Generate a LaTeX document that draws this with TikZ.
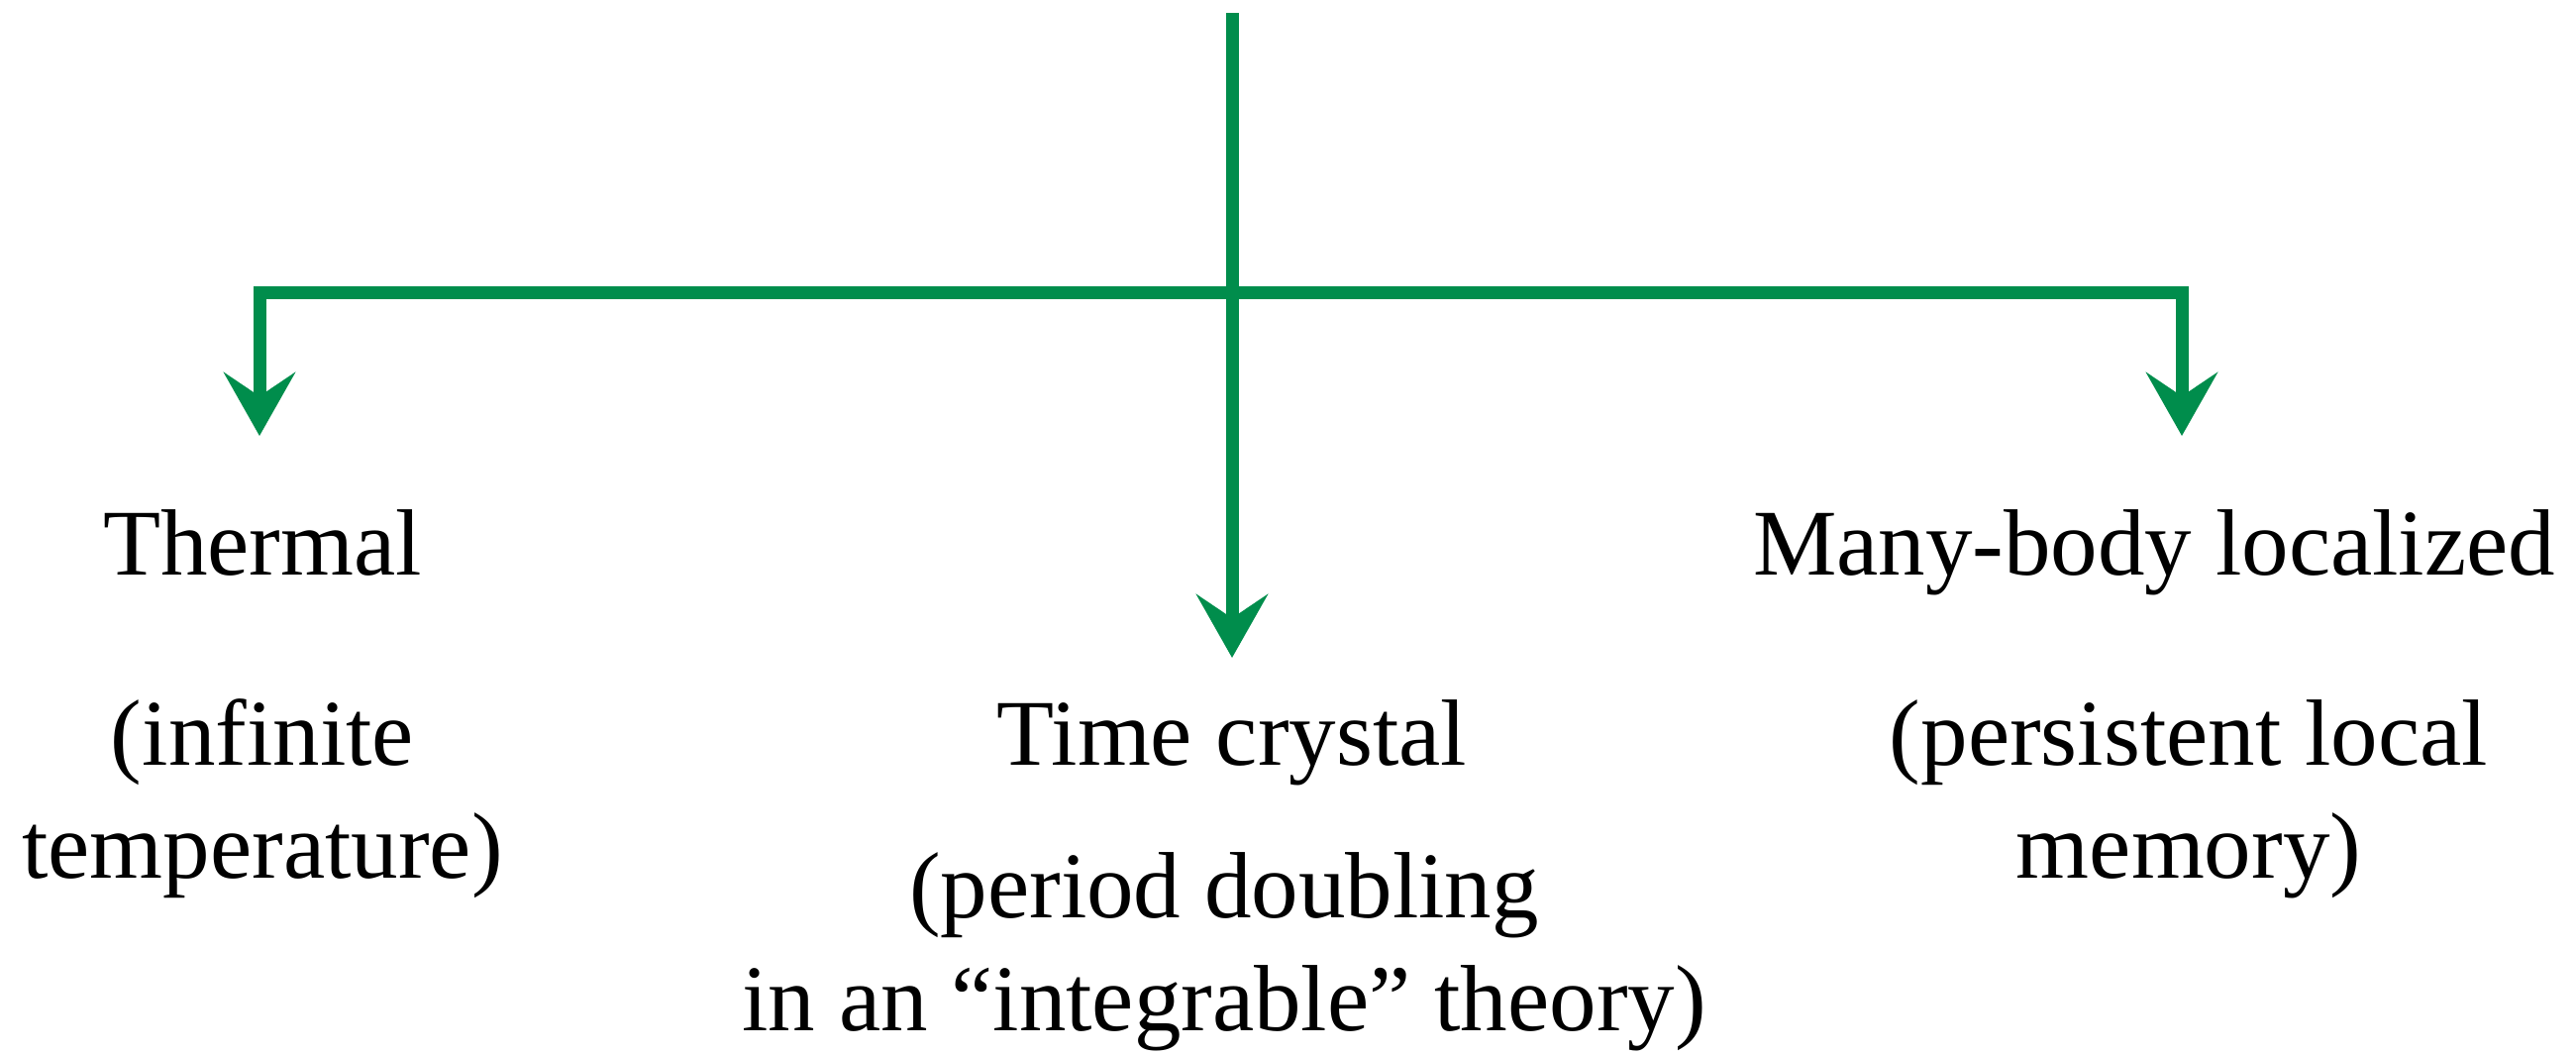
\documentclass[tikz,border=0pt]{standalone}
\usepackage{fontspec}
\setmainfont{Liberation Serif}
\usetikzlibrary{arrows.meta}
\definecolor{gesso}{RGB}{0,141,76}
\tikzset{
    punta/.tip={Stealth[length=16pt,width=18pt,inset=6pt]},
    freccia/.style={draw=gesso, line width=3.25pt, line join=miter},
    etichetta/.style={font=\fontsize{23.75}{28.5}\selectfont, align=center, anchor=base, inner sep=0pt},
}
\begin{document}
\begin{tikzpicture}[x=0.25pt, y=-0.25pt]
    % Cornice
    \useasboundingbox (0,0) rectangle (2601,1064);
    % Punti delle frecce
    \coordinate (sorgente) at (1244,13);
    \coordinate (snodo) at (1244,295);
    \coordinate (puntaT) at (262,440);
    \coordinate (puntaC) at (1244,664);
    \coordinate (puntaM) at (2203,440);
    % Frecce
    \draw[freccia, -punta] (sorgente) -- (puntaC);
    \draw[freccia, punta-punta] (puntaT) |- (snodo) -| (puntaM);
    % Etichette (base = ultima riga)
    \node[etichetta] (termico) at (265,580) {Thermal};
    \node[etichetta] (termicoNota) at (265,886) {(infinite\\temperature)};
    \node[etichetta] (cristallo) at (1244,772) {Time crystal};
    \node[etichetta] (cristalloNota) at (1236,1040) {(period doubling\\in an “integrable” theory)};
    \node[etichetta] (mbl) at (2175,580) {Many-body localized};
    \node[etichetta] (mblNota) at (2210,886) {(persistent local\\memory)};
\end{tikzpicture}
\end{document}
